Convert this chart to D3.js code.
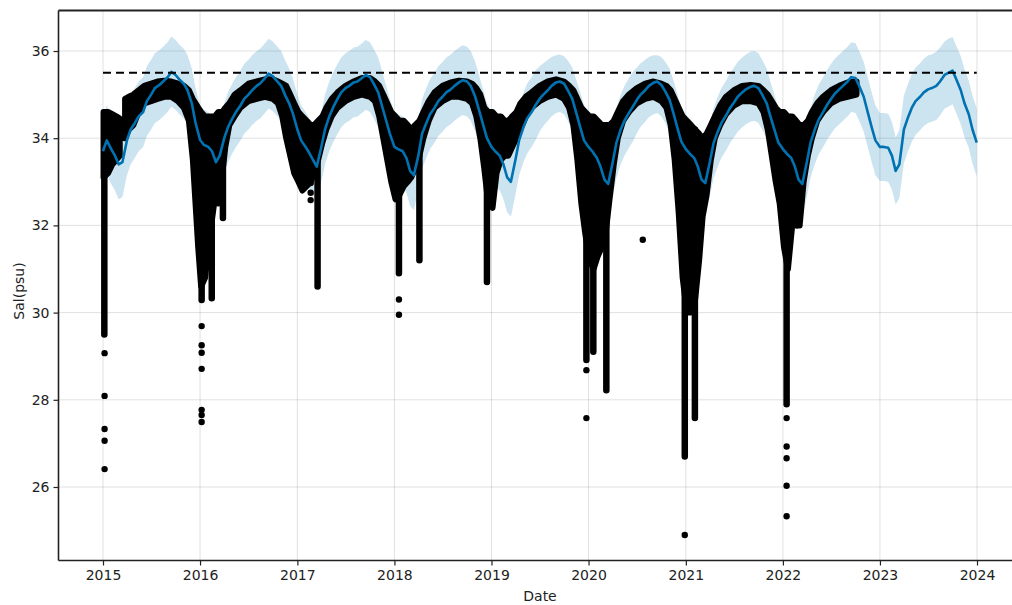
<!DOCTYPE html>
<html>
<head>
<meta charset="utf-8">
<script src="https://cdn.jsdelivr.net/npm/d3@7"></script>
<style>
  html, body { margin: 0; padding: 0; background: #fff; }
  svg { display: block; }
  text { font-family: "DejaVu Sans", sans-serif; fill: #222; }
</style>
</head>
<body>
<svg id="chart" width="1012" height="605"></svg>
<script>
// ---- forecast (yhat with uncertainty band), sampled on the 1st and 15th of each month 2015-2023, plus 2023-12-31
const fcYhat = [
  // 2015
  33.70, 33.95, 33.75, 33.60, 33.40, 33.45, 33.95, 34.20, 34.35, 34.50, 34.60, 34.85,
  35.00, 35.15, 35.22, 35.30, 35.40, 35.52, 35.45, 35.35, 35.25, 35.10, 34.80, 34.35,
  // 2016
  33.96, 33.85, 33.80, 33.70, 33.45, 33.60, 34.00, 34.25, 34.45, 34.60, 34.75, 34.90,
  35.00, 35.10, 35.20, 35.26, 35.38, 35.48, 35.42, 35.32, 35.20, 35.00, 34.80, 34.57,
  // 2017
  34.20, 33.95, 33.80, 33.66, 33.50, 33.35, 33.80, 34.20, 34.50, 34.70, 34.90, 35.05,
  35.15, 35.20, 35.28, 35.30, 35.38, 35.45, 35.40, 35.25, 35.05, 34.75, 34.40, 34.10,
  // 2018
  33.80, 33.75, 33.70, 33.55, 33.25, 33.15, 33.60, 34.10, 34.35, 34.55, 34.70, 34.85,
  34.95, 35.05, 35.12, 35.20, 35.28, 35.33, 35.30, 35.20, 34.95, 34.65, 34.30, 34.00,
  // 2019
  33.80, 33.70, 33.60, 33.40, 33.10, 33.00, 33.50, 33.95, 34.25, 34.45, 34.60, 34.75,
  34.90, 35.00, 35.10, 35.20, 35.28, 35.30, 35.25, 35.10, 34.90, 34.60, 34.25, 33.95,
  // 2020
  33.80, 33.70, 33.55, 33.35, 33.05, 32.95, 33.45, 33.90, 34.20, 34.40, 34.58, 34.72,
  34.88, 35.00, 35.10, 35.20, 35.27, 35.30, 35.22, 35.08, 34.88, 34.58, 34.22, 33.92,
  // 2021
  33.75, 33.65, 33.55, 33.35, 33.05, 32.97, 33.45, 33.88, 34.15, 34.35, 34.52, 34.68,
  34.82, 34.95, 35.05, 35.12, 35.18, 35.20, 35.15, 35.00, 34.80, 34.50, 34.18, 33.90,
  // 2022
  33.75, 33.65, 33.55, 33.35, 33.05, 32.95, 33.45, 33.90, 34.20, 34.42, 34.60, 34.75,
  34.90, 35.02, 35.12, 35.20, 35.30, 35.40, 35.38, 35.20, 34.95, 34.62, 34.25, 33.95,
  // 2023
  33.80, 33.80, 33.78, 33.60, 33.25, 33.40, 34.20, 34.45, 34.70, 34.85, 34.95, 35.05,
  35.12, 35.15, 35.20, 35.30, 35.45, 35.50, 35.55, 35.35, 35.10, 34.80, 34.55, 34.20,
  33.90
];
const fcUpper = [
  34.50, 34.75, 34.55, 34.40, 34.20, 34.25, 34.75, 35.00, 35.15, 35.30, 35.40, 35.65,
  35.80, 35.95, 36.02, 36.10, 36.20, 36.33, 36.25, 36.15, 36.05, 35.90, 35.60, 35.15,
  34.76, 34.65, 34.60, 34.50, 34.25, 34.40, 34.80, 35.05, 35.25, 35.40, 35.55, 35.70,
  35.80, 35.90, 36.00, 36.06, 36.18, 36.28, 36.22, 36.12, 36.00, 35.80, 35.60, 35.37,
  35.00, 34.75, 34.60, 34.46, 34.30, 34.15, 34.60, 35.00, 35.30, 35.50, 35.70, 35.85,
  35.95, 36.00, 36.08, 36.10, 36.18, 36.25, 36.20, 36.05, 35.85, 35.55, 35.20, 34.90,
  34.60, 34.55, 34.50, 34.35, 34.05, 33.95, 34.40, 34.90, 35.15, 35.35, 35.50, 35.65,
  35.75, 35.85, 35.92, 36.00, 36.08, 36.13, 36.10, 36.00, 35.75, 35.45, 35.10, 34.80,
  34.60, 34.50, 34.40, 34.20, 33.90, 33.80, 34.30, 34.75, 35.05, 35.25, 35.40, 35.55,
  35.65, 35.72, 35.80, 35.86, 35.90, 35.92, 35.88, 35.78, 35.62, 35.35, 35.05, 34.75,
  34.60, 34.50, 34.35, 34.15, 33.85, 33.75, 34.25, 34.70, 35.00, 35.20, 35.38, 35.52,
  35.62, 35.72, 35.80, 35.86, 35.90, 35.90, 35.86, 35.76, 35.60, 35.34, 35.00, 34.72,
  34.55, 34.45, 34.35, 34.15, 33.85, 33.77, 34.25, 34.68, 34.95, 35.15, 35.32, 35.48,
  35.62, 35.75, 35.85, 35.92, 35.98, 36.00, 35.95, 35.80, 35.60, 35.30, 34.98, 34.70,
  34.55, 34.45, 34.35, 34.15, 33.85, 33.75, 34.25, 34.70, 35.00, 35.22, 35.40, 35.55,
  35.70, 35.82, 35.92, 36.00, 36.10, 36.20, 36.18, 36.00, 35.75, 35.42, 35.05, 34.75,
  34.58, 34.58, 34.56, 34.38, 34.02, 34.18, 34.98, 35.22, 35.48, 35.62, 35.72, 35.82,
  35.90, 35.92, 35.98, 36.08, 36.22, 36.28, 36.32, 36.12, 35.88, 35.58, 35.32, 34.98,
  34.68
];
const fcLower = [
  32.90, 33.15, 32.95, 32.80, 32.60, 32.65, 33.15, 33.40, 33.55, 33.70, 33.80, 34.05,
  34.20, 34.35, 34.42, 34.50, 34.60, 34.72, 34.65, 34.55, 34.45, 34.30, 34.00, 33.55,
  33.16, 33.05, 33.00, 32.90, 32.65, 32.80, 33.20, 33.45, 33.65, 33.80, 33.95, 34.10,
  34.20, 34.30, 34.40, 34.46, 34.58, 34.68, 34.62, 34.52, 34.40, 34.20, 34.00, 33.77,
  33.40, 33.15, 33.00, 32.86, 32.70, 32.55, 33.00, 33.40, 33.70, 33.90, 34.10, 34.25,
  34.35, 34.40, 34.48, 34.50, 34.58, 34.65, 34.60, 34.45, 34.25, 33.95, 33.60, 33.30,
  33.00, 32.95, 32.90, 32.75, 32.45, 32.35, 32.80, 33.30, 33.55, 33.75, 33.90, 34.05,
  34.15, 34.25, 34.32, 34.40, 34.48, 34.53, 34.50, 34.40, 34.15, 33.85, 33.50, 33.20,
  33.00, 32.90, 32.80, 32.60, 32.30, 32.20, 32.70, 33.15, 33.45, 33.65, 33.80, 33.95,
  34.15, 34.28, 34.40, 34.50, 34.58, 34.60, 34.55, 34.40, 34.15, 33.82, 33.45, 33.15,
  33.00, 32.90, 32.75, 32.55, 32.25, 32.15, 32.65, 33.10, 33.40, 33.60, 33.78, 33.92,
  34.12, 34.26, 34.38, 34.48, 34.55, 34.58, 34.50, 34.36, 34.12, 33.80, 33.42, 33.12,
  32.95, 32.85, 32.75, 32.55, 32.25, 32.17, 32.65, 33.08, 33.35, 33.55, 33.72, 33.88,
  34.02, 34.15, 34.25, 34.32, 34.38, 34.40, 34.35, 34.20, 34.00, 33.70, 33.38, 33.10,
  32.95, 32.85, 32.75, 32.55, 32.25, 32.15, 32.65, 33.10, 33.40, 33.62, 33.80, 33.95,
  34.10, 34.22, 34.32, 34.40, 34.50, 34.60, 34.58, 34.40, 34.15, 33.82, 33.45, 33.15,
  33.02, 33.02, 33.00, 32.82, 32.48, 32.62, 33.42, 33.68, 33.92, 34.08, 34.18, 34.28,
  34.35, 34.38, 34.42, 34.52, 34.68, 34.72, 34.78, 34.58, 34.32, 34.02, 33.78, 33.42,
  33.12
];

// ---- observed salinity: envelope of the daily readings (null = no data)
const obsDates = [
  "2015-01-03","2015-01-20","2015-02-05","2015-02-20","2015-03-05","2015-03-14",
  "2015-03-25","2015-04-08","2015-04-25","2015-05-15","2015-06-05","2015-07-01","2015-07-25",
  "2015-08-20","2015-09-15","2015-10-10","2015-11-01","2015-11-20","2015-12-05","2015-12-15",
  "2015-12-25",
  "2016-01-05","2016-01-20","2016-02-01","2016-02-12","2016-02-25","2016-03-10","2016-03-25",
  "2016-04-05","2016-04-20","2016-05-10","2016-06-01","2016-07-01","2016-08-01","2016-09-01",
  "2016-10-01","2016-10-20","2016-11-05","2016-11-20","2016-12-05","2016-12-20",
  "2017-01-05","2017-01-20","2017-02-05","2017-02-20","2017-03-05","2017-03-20","2017-04-05",
  "2017-04-20","2017-05-10","2017-06-01","2017-07-01","2017-08-01","2017-09-01","2017-10-01",
  "2017-10-20","2017-11-05","2017-11-20","2017-12-05","2017-12-20",
  "2018-01-05","2018-01-20","2018-02-05","2018-02-20","2018-03-05","2018-03-20","2018-04-05",
  "2018-04-20","2018-05-10","2018-06-01","2018-07-01","2018-08-01","2018-09-01","2018-10-01",
  "2018-10-20","2018-11-05","2018-11-20","2018-12-05","2018-12-20",
  "2019-01-05","2019-01-20","2019-02-05","2019-02-20","2019-03-05","2019-03-20","2019-04-05",
  "2019-04-20","2019-05-10","2019-06-01","2019-07-01","2019-08-01","2019-09-01","2019-10-01",
  "2019-10-20","2019-11-05","2019-11-20","2019-12-05","2019-12-20",
  "2020-01-05","2020-01-20","2020-02-05","2020-02-20","2020-03-05","2020-03-20","2020-04-05",
  "2020-04-20","2020-05-10","2020-06-01","2020-07-01","2020-08-01","2020-09-01","2020-10-01",
  "2020-10-20","2020-11-05","2020-11-20","2020-12-05","2020-12-20",
  "2021-01-05","2021-01-20","2021-02-05","2021-02-20","2021-03-05","2021-03-20","2021-04-05",
  "2021-04-20","2021-05-10","2021-06-01","2021-07-01","2021-08-01","2021-09-01","2021-10-01",
  "2021-10-20","2021-11-05","2021-11-20","2021-12-05","2021-12-20",
  "2022-01-05","2022-01-20","2022-02-05","2022-02-20","2022-03-05","2022-03-20","2022-04-05",
  "2022-04-20","2022-05-10","2022-06-01","2022-07-01","2022-08-01","2022-09-01","2022-10-05"
];
const obsHigh = [
  34.60, 34.60, 34.55, 34.50, 34.45, null,
  34.90, 34.95, 35.00, 35.10, 35.20, 35.25, 35.30, 35.32, 35.30, 35.25, 35.20, 35.10, 34.90, 34.80,
  34.70,
  34.60, 34.50, 34.50, 34.50, 34.50, 34.60, 34.60, 34.70, 34.80, 35.00, 35.10, 35.25, 35.30, 35.35,
  35.35, 35.30, 35.25, 35.20, 35.00, 34.80,
  34.60, 34.50, 34.40, 34.30, 34.30, 34.40, 34.50, 34.70, 34.90, 35.05, 35.20, 35.30, 35.38, 35.38,
  35.30, 35.20, 35.00, 34.80, 34.60,
  34.50, 34.40, 34.40, 34.30, 34.20, 34.30, 34.40, 34.60, 34.85, 35.05, 35.20, 35.28, 35.32, 35.30,
  35.25, 35.15, 35.00, 34.70, 34.60,
  34.60, 34.50, 34.50, 34.40, 34.40, 34.50, 34.60, 34.80, 34.95, 35.05, 35.20, 35.30, 35.35, 35.30,
  35.20, 35.10, 34.90, 34.70, 34.60,
  34.50, 34.50, 34.40, 34.30, 34.30, 34.30, 34.40, 34.60, 34.85, 35.00, 35.15, 35.25, 35.30, 35.25,
  35.20, 35.10, 34.90, 34.70, 34.50,
  34.40, 34.30, 34.20, 34.10, 34.00, 34.10, 34.30, 34.50, 34.75, 34.95, 35.10, 35.20, 35.22, 35.20,
  35.10, 35.00, 34.85, 34.70, 34.60,
  34.60, 34.50, 34.50, 34.40, 34.30, 34.30, 34.40, 34.60, 34.80, 34.95, 35.10, 35.20, 35.28, 35.30
];
const obsLow = [
  33.10, 33.20, 33.40, 33.50, 33.60, null,
  34.00, 34.20, 34.30, 34.60, 34.80, 34.85, 34.90, 34.95, 34.95, 34.85, 34.70, 34.40, 33.50, 32.50,
  31.50,
  30.60, 30.80, 31.50, 32.00, 32.60, 32.50, 33.20, 33.80, 34.30, 34.50, 34.70, 34.85, 34.90, 34.95,
  34.90, 34.80, 34.50, 34.00, 33.60, 33.20,
  33.00, 32.80, 32.90, 33.00, 33.20, 33.50, 33.90, 34.20, 34.50, 34.70, 34.85, 34.95, 35.00, 34.95,
  34.85, 34.50, 34.00, 33.50, 33.00,
  32.60, 32.70, 32.90, 33.00, 33.10, 33.30, 33.60, 34.00, 34.40, 34.70, 34.85, 34.95, 34.95, 34.90,
  34.80, 34.50, 34.00, 33.30, 32.50,
  32.40, 33.20, 33.50, 33.60, 33.60, 33.80, 34.00, 34.20, 34.50, 34.70, 34.85, 34.95, 35.00, 34.90,
  34.70, 34.30, 33.50, 32.50, 31.80,
  31.20, 31.00, 31.30, 31.50, 31.80, 32.60, 33.40, 34.00, 34.40, 34.60, 34.80, 34.90, 34.95, 34.85,
  34.70, 34.30, 33.50, 32.30, 30.80,
  30.00, 30.00, 30.30, 31.20, 32.20, 32.70, 33.50, 34.00, 34.30, 34.55, 34.75, 34.85, 34.85, 34.80,
  34.60, 34.20, 33.60, 33.00, 32.50,
  31.50, 31.00, 32.00, 32.20, 32.00, 33.00, 33.60, 34.00, 34.40, 34.60, 34.80, 34.90, 34.95, 35.00
];

// ---- short low-salinity events: runs of readings reaching down to obsDropMin
const obsDropDates = [
  "2015-01-06","2016-01-07","2016-02-14","2016-03-27","2017-03-18","2018-01-18","2018-04-05",
  "2018-12-15","2019-12-24","2020-01-19","2020-03-08","2020-12-28","2021-02-04","2022-01-15",
  "2022-02-23"
];
const obsDropMin = [
  29.50, 30.29, 30.33, 32.17, 30.60, 30.90, 31.20,
  30.70, 28.91, 29.10, 28.22, 26.70, 27.58, 27.90,
  32.00
];

// ---- isolated readings away from the bulk of the record
const obsPointDates = [
  "2015-01-07","2015-01-07","2015-01-07","2015-01-07","2015-01-07",
  "2016-01-07","2016-01-07","2016-01-07","2016-01-07","2016-01-07","2016-01-07","2016-01-07",
  "2017-02-20","2017-02-20","2017-02-20",
  "2018-01-18","2018-01-18",
  "2019-12-24","2019-12-24",
  "2020-07-23",
  "2020-12-28",
  "2022-01-15","2022-01-15","2022-01-15","2022-01-15","2022-01-15"
];
const obsPointValues = [
  29.07, 28.09, 27.33, 27.06, 26.41,
  29.69, 29.25, 29.08, 28.71, 27.77, 27.65, 27.49,
  32.97, 32.75, 32.58,
  30.30, 29.95,
  28.68, 27.58,
  31.67,
  24.90,
  27.58, 26.93, 26.66, 26.03, 25.33
];

// ---- reference level and axis ticks
const capLevel = 35.5;
const capStart = "2015-01-01", capEnd = "2023-12-31";
const yTicks = [26, 28, 30, 32, 34, 36];
const xTickYears = [2015, 2016, 2017, 2018, 2019, 2020, 2021, 2022, 2023, 2024];

// ---------------------------------------------------------------------------
const parse = d3.timeParse("%Y-%m-%d");
const svg = d3.select("#chart");
const plot = { left: 58.5, top: 10.5, right: 1021, bottom: 560.5 };

const x = d3.scaleTime()
  .domain([new Date(2015, 0, 1), new Date(2024, 0, 1)])
  .range([103, 977]);
const y = d3.scaleLinear().domain([26, 36]).range([487, 51]);

// sample dates of the forecast: 1st and 15th of every month, then the last day
const fcDates = [];
d3.timeMonth.range(new Date(2015, 0, 1), new Date(2024, 0, 1)).forEach(m => {
  fcDates.push(m, new Date(m.getFullYear(), m.getMonth(), 15));
});
fcDates.push(new Date(2023, 11, 31));
const fc = fcDates.map((d, i) => ({ d, yhat: fcYhat[i], lo: fcLower[i], hi: fcUpper[i] }));

svg.append("defs").append("clipPath").attr("id", "plotclip")
  .append("rect")
  .attr("x", plot.left).attr("y", plot.top)
  .attr("width", plot.right - plot.left).attr("height", plot.bottom - plot.top);

// grid
const grid = svg.append("g").attr("stroke", "#000").attr("stroke-opacity", 0.12).attr("stroke-width", 1);
grid.selectAll("line.gx").data(xTickYears).join("line")
  .attr("x1", d => x(new Date(d, 0, 1))).attr("x2", d => x(new Date(d, 0, 1)))
  .attr("y1", plot.top).attr("y2", plot.bottom);
grid.selectAll("line.gy").data(yTicks).join("line")
  .attr("x1", plot.left).attr("x2", plot.right)
  .attr("y1", d => y(d)).attr("y2", d => y(d));

const g = svg.append("g").attr("clip-path", "url(#plotclip)");

// uncertainty band
g.append("path").datum(fc)
  .attr("d", d3.area().x(p => x(p.d)).y0(p => y(p.lo)).y1(p => y(p.hi)))
  .attr("fill", "#0072B2").attr("fill-opacity", 0.2);

// observations: envelope as a filled band with a round outline the width of a marker
const obs = obsDates.map((d, i) => ({ d: parse(d), hi: obsHigh[i], lo: obsLow[i] }));
const obsArea = d3.area()
  .defined(p => p.hi != null)
  .x(p => x(p.d)).y0(p => y(p.lo)).y1(p => y(p.hi));
g.append("path").datum(obs)
  .attr("d", obsArea)
  .attr("fill", "#000").attr("stroke", "#000")
  .attr("stroke-width", 6).attr("stroke-linejoin", "round");

// low-salinity runs
g.selectAll("line.drop").data(obsDropDates.map((d, i) => ({ d: parse(d), v: obsDropMin[i] })))
  .join("line")
  .attr("x1", p => x(p.d)).attr("x2", p => x(p.d))
  .attr("y1", y(34.2)).attr("y2", p => y(p.v))
  .attr("stroke", "#000").attr("stroke-width", 6.5).attr("stroke-linecap", "round");

// isolated readings
g.selectAll("circle.pt").data(obsPointDates.map((d, i) => ({ d: parse(d), v: obsPointValues[i] })))
  .join("circle")
  .attr("cx", p => x(p.d)).attr("cy", p => y(p.v)).attr("r", 3.2)
  .attr("fill", "#000");

// forecast line
g.append("path").datum(fc)
  .attr("d", d3.line().x(p => x(p.d)).y(p => y(p.yhat)))
  .attr("fill", "none").attr("stroke", "#0072B2").attr("stroke-width", 2.6)
  .attr("stroke-linejoin", "round");

// cap level
g.append("line")
  .attr("x1", x(parse(capStart))).attr("x2", x(parse(capEnd)))
  .attr("y1", y(capLevel)).attr("y2", y(capLevel))
  .attr("stroke", "#000").attr("stroke-width", 2).attr("stroke-dasharray", "8,5");

// axes
const xAxis = d3.axisBottom(x)
  .tickValues(xTickYears.map(yr => new Date(yr, 0, 1)))
  .tickFormat(d3.timeFormat("%Y")).tickSizeOuter(0).tickSize(5).tickPadding(5);
const yAxis = d3.axisLeft(y).tickValues(yTicks).tickSizeOuter(0).tickSize(5).tickPadding(4);

const gx = svg.append("g").attr("transform", `translate(0,${plot.bottom})`).call(xAxis);
const gy = svg.append("g").attr("transform", `translate(${plot.left},0)`).call(yAxis);
[gx, gy].forEach(a => {
  a.select(".domain").remove();
  a.selectAll(".tick line").attr("stroke", "#222").attr("stroke-width", 1.2);
  a.selectAll(".tick text").attr("font-size", 14).attr("fill", "#222")
    .attr("font-family", "DejaVu Sans, sans-serif");
});

// frame
svg.append("line").attr("x1", plot.left).attr("x2", plot.left).attr("y1", plot.top).attr("y2", plot.bottom)
  .attr("stroke", "#222").attr("stroke-width", 1.6);
svg.append("line").attr("x1", plot.left).attr("x2", plot.right).attr("y1", plot.bottom).attr("y2", plot.bottom)
  .attr("stroke", "#222").attr("stroke-width", 1.6);
svg.append("line").attr("x1", plot.left).attr("x2", plot.right).attr("y1", plot.top).attr("y2", plot.top)
  .attr("stroke", "#222").attr("stroke-width", 2);

// axis titles
svg.append("text").attr("x", 540).attr("y", 601).attr("text-anchor", "middle")
  .attr("font-size", 14).text("Date");
svg.append("text").attr("transform", "translate(24,291) rotate(-90)").attr("text-anchor", "middle")
  .attr("font-size", 14).text("Sal(psu)");
</script>
</body>
</html>
